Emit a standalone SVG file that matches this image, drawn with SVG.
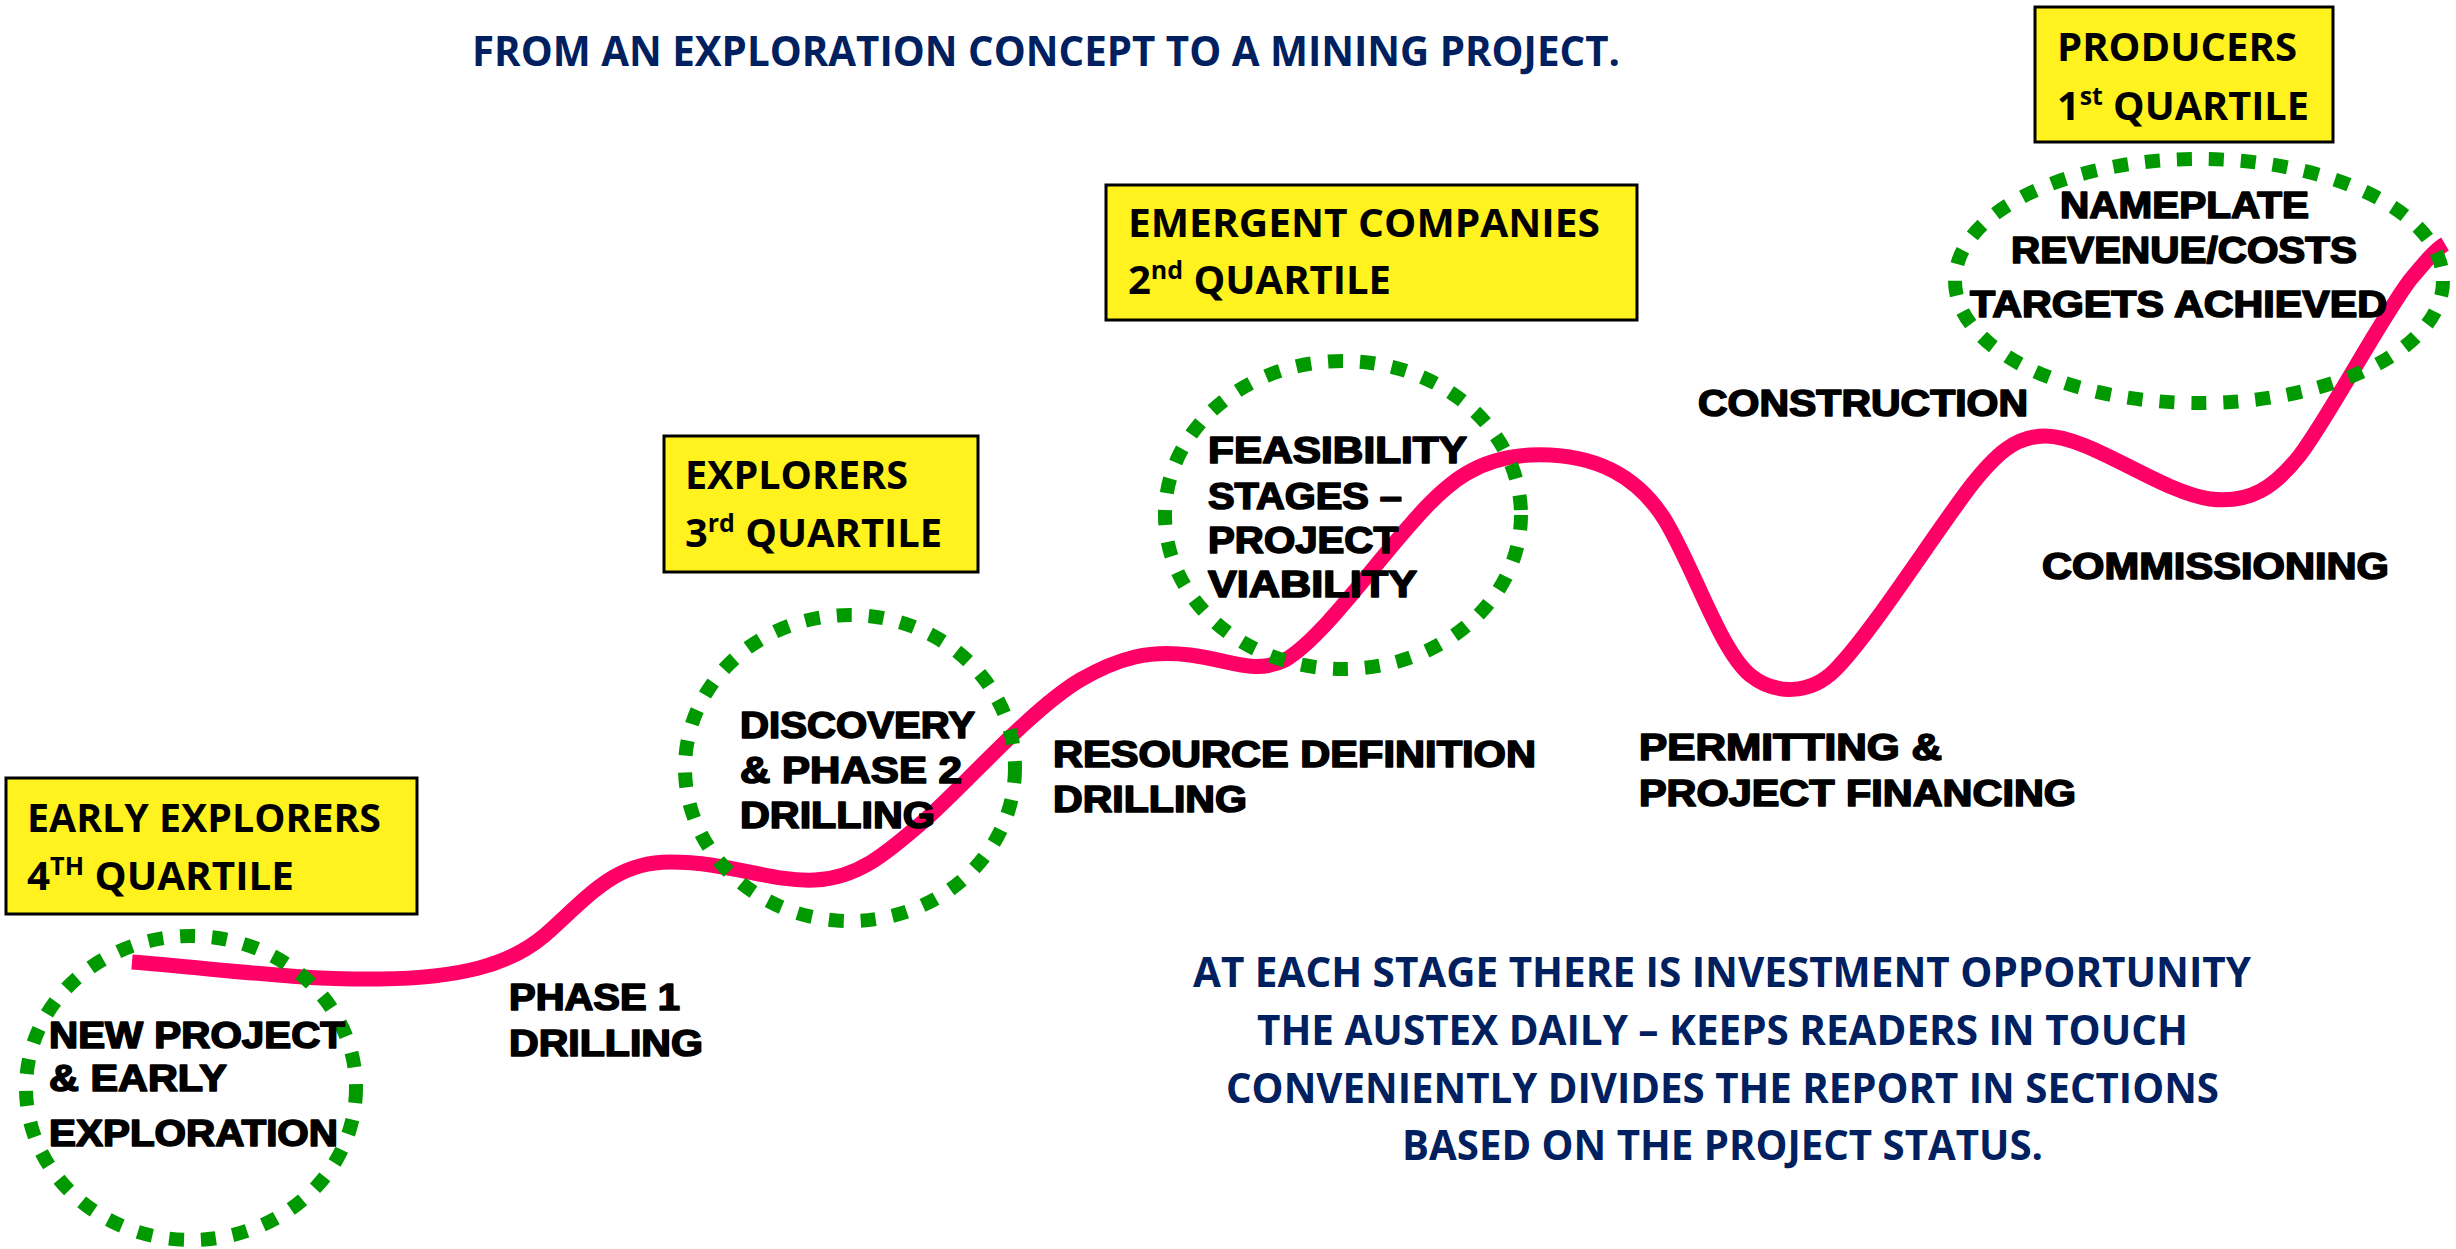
<svg xmlns="http://www.w3.org/2000/svg" width="2456" height="1249" viewBox="0 0 2456 1249">
<style>
.bg{fill:#ffffff}
.box{fill:#FFF21E;stroke:#000000;stroke-width:3}
.ring{fill:none;stroke:#009A00;stroke-width:14;stroke-dasharray:15 17}
.curve{fill:none;stroke:#FF0066;stroke-width:15;stroke-linecap:butt;stroke-linejoin:round}
.bt{font-family:"Open Sans","Liberation Sans",sans-serif;font-weight:700;font-size:40px;fill:#000000}
.sup{font-size:25px}
.lb{font-family:"Liberation Sans",Arial,sans-serif;font-weight:700;font-size:36px;fill:#000000;stroke:#000000;stroke-width:1.6;stroke-linejoin:round}
.nv{font-family:"Open Sans","Liberation Sans",sans-serif;font-weight:700;font-size:42px;fill:#002060}
</style>
<rect class="bg" x="0" y="0" width="2456" height="1249"/>

<g id="title">
<text class="nv" x="472" y="66" textLength="1148" lengthAdjust="spacingAndGlyphs">FROM AN EXPLORATION CONCEPT TO A MINING PROJECT.</text>
</g>

<g id="connectors">
<path class="curve" d="M132,962 C230,970 300,980 380,979 C460,978 510,965 545,935 C590,895 615,862 670,862 C730,862 770,882 815,880 C860,878 890,850 925,820 C960,790 1030,710 1080,680 C1120,657 1150,650 1190,655 C1230,660 1255,675 1285,660 C1320,640 1370,570 1410,525 C1450,478 1480,458 1530,455 C1600,452 1640,480 1665,520 C1695,570 1720,650 1750,675 C1775,695 1810,695 1835,670 C1870,635 1930,540 1970,487 C1995,455 2015,436 2045,436 C2090,436 2160,492 2210,499 C2250,504 2275,487 2300,455 C2330,415 2380,320 2410,280 C2425,262 2435,250 2445,244"/>
</g>

<g id="box-early-explorers">
<rect class="box" x="6" y="778" width="411" height="136"/>
<text class="bt" x="27" y="832" textLength="354" lengthAdjust="spacingAndGlyphs">EARLY EXPLORERS</text>
<text class="bt" x="27" y="890" textLength="267" lengthAdjust="spacingAndGlyphs">4<tspan class="sup" dy="-15">TH</tspan><tspan dy="15"> QUARTILE</tspan></text>
</g>

<g id="box-explorers">
<rect class="box" x="664" y="436" width="314" height="136"/>
<text class="bt" x="685" y="489" textLength="223" lengthAdjust="spacingAndGlyphs">EXPLORERS</text>
<text class="bt" x="685" y="547" textLength="257" lengthAdjust="spacingAndGlyphs">3<tspan class="sup" dy="-15">rd</tspan><tspan dy="15"> QUARTILE</tspan></text>
</g>

<g id="box-emergent">
<rect class="box" x="1106" y="185" width="531" height="135"/>
<text class="bt" x="1128" y="237" textLength="472" lengthAdjust="spacingAndGlyphs">EMERGENT COMPANIES</text>
<text class="bt" x="1128" y="294" textLength="263" lengthAdjust="spacingAndGlyphs">2<tspan class="sup" dy="-15">nd</tspan><tspan dy="15"> QUARTILE</tspan></text>
</g>

<g id="box-producers">
<rect class="box" x="2035" y="7" width="298" height="135"/>
<text class="bt" x="2057" y="61" textLength="240" lengthAdjust="spacingAndGlyphs">PRODUCERS</text>
<text class="bt" x="2057" y="120" textLength="252" lengthAdjust="spacingAndGlyphs">1<tspan class="sup" dy="-15">st</tspan><tspan dy="15"> QUARTILE</tspan></text>
</g>

<g id="stage-new-project">
<ellipse class="ring" cx="191" cy="1088" rx="165" ry="152"/>
<text class="lb" x="49" y="1048" textLength="296" lengthAdjust="spacingAndGlyphs">NEW PROJECT</text>
<text class="lb" x="49" y="1091" textLength="178" lengthAdjust="spacingAndGlyphs">&amp; EARLY</text>
<text class="lb" x="49" y="1146" textLength="289" lengthAdjust="spacingAndGlyphs">EXPLORATION</text>
</g>

<g id="stage-phase1">
<text class="lb" x="509" y="1010" textLength="171" lengthAdjust="spacingAndGlyphs">PHASE 1</text>
<text class="lb" x="509" y="1056" textLength="194" lengthAdjust="spacingAndGlyphs">DRILLING</text>
</g>

<g id="stage-discovery">
<ellipse class="ring" cx="850" cy="768" rx="165" ry="153"/>
<text class="lb" x="740" y="738" textLength="235" lengthAdjust="spacingAndGlyphs">DISCOVERY</text>
<text class="lb" x="740" y="783" textLength="222" lengthAdjust="spacingAndGlyphs">&amp; PHASE 2</text>
<text class="lb" x="740" y="828" textLength="195" lengthAdjust="spacingAndGlyphs">DRILLING</text>
</g>

<g id="stage-resource">
<text class="lb" x="1053" y="767" textLength="483" lengthAdjust="spacingAndGlyphs">RESOURCE DEFINITION</text>
<text class="lb" x="1053" y="812" textLength="194" lengthAdjust="spacingAndGlyphs">DRILLING</text>
</g>

<g id="stage-feasibility">
<ellipse class="ring" cx="1343" cy="515" rx="178" ry="154"/>
<text class="lb" x="1208" y="463" textLength="259" lengthAdjust="spacingAndGlyphs">FEASIBILITY</text>
<text class="lb" x="1208" y="509" textLength="194" lengthAdjust="spacingAndGlyphs">STAGES –</text>
<text class="lb" x="1208" y="553" textLength="190" lengthAdjust="spacingAndGlyphs">PROJECT</text>
<text class="lb" x="1208" y="597" textLength="209" lengthAdjust="spacingAndGlyphs">VIABILITY</text>
</g>

<g id="stage-permitting">
<text class="lb" x="1639" y="760" textLength="303" lengthAdjust="spacingAndGlyphs">PERMITTING &amp;</text>
<text class="lb" x="1639" y="806" textLength="437" lengthAdjust="spacingAndGlyphs">PROJECT FINANCING</text>
</g>

<g id="stage-construction">
<text class="lb" x="1698" y="416" textLength="330" lengthAdjust="spacingAndGlyphs">CONSTRUCTION</text>
</g>

<g id="stage-commissioning">
<text class="lb" x="2042" y="579" textLength="347" lengthAdjust="spacingAndGlyphs">COMMISSIONING</text>
</g>

<g id="stage-nameplate">
<ellipse class="ring" cx="2199" cy="281" rx="244" ry="122"/>
<text class="lb" x="2060" y="218" textLength="249" lengthAdjust="spacingAndGlyphs">NAMEPLATE</text>
<text class="lb" x="2011" y="263" textLength="346" lengthAdjust="spacingAndGlyphs">REVENUE/COSTS</text>
<text class="lb" x="1970" y="317" textLength="417" lengthAdjust="spacingAndGlyphs">TARGETS ACHIEVED</text>
</g>

<g id="note">
<text class="nv" x="1193" y="987" textLength="1058" lengthAdjust="spacingAndGlyphs">AT EACH STAGE THERE IS INVESTMENT OPPORTUNITY</text>
<text class="nv" x="1257" y="1045" textLength="931" lengthAdjust="spacingAndGlyphs">THE AUSTEX DAILY – KEEPS READERS IN TOUCH</text>
<text class="nv" x="1226" y="1103" textLength="993" lengthAdjust="spacingAndGlyphs">CONVENIENTLY DIVIDES THE REPORT IN SECTIONS</text>
<text class="nv" x="1402" y="1160" textLength="641" lengthAdjust="spacingAndGlyphs">BASED ON THE PROJECT STATUS.</text>
</g>
</svg>
